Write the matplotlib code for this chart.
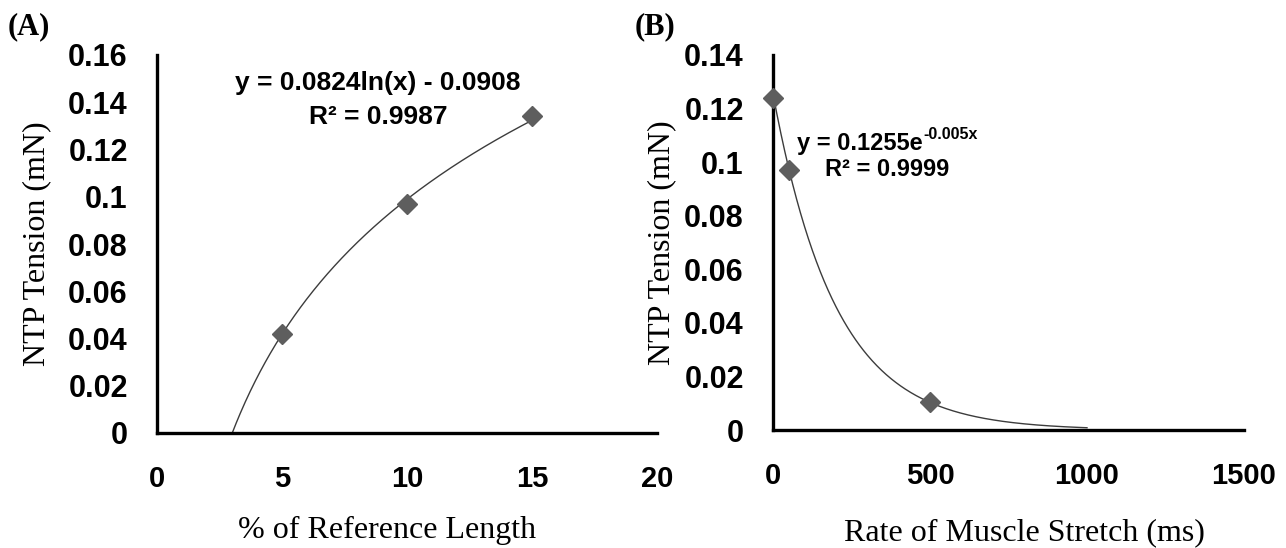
import numpy as np
import matplotlib
matplotlib.use("Agg")
import matplotlib.pyplot as plt
from matplotlib.transforms import offset_copy

# ---- data ----
a_x = [5, 10, 15]
a_y = [0.042, 0.097, 0.134]
a_coef = [0.0824, -0.0908]          # y = a*ln(x) + b
a_xticks = [0, 5, 10, 15, 20]
a_yticks = [0, 0.02, 0.04, 0.06, 0.08, 0.1, 0.12, 0.14, 0.16]
a_ytick_labels = ["0", "0.02", "0.04", "0.06", "0.08", "0.1", "0.12", "0.14", "0.16"]

b_x = [0, 50, 500]
b_y = [0.124, 0.097, 0.0105]
b_coef = [0.1255, -0.005]           # y = a*exp(b*x)
b_fit_max = 1000
b_xticks = [0, 500, 1000, 1500]
b_yticks = [0, 0.02, 0.04, 0.06, 0.08, 0.1, 0.12, 0.14]
b_ytick_labels = ["0", "0.02", "0.04", "0.06", "0.08", "0.1", "0.12", "0.14"]

W, H = 1286, 548
fig = plt.figure(figsize=(W / 100, H / 100), dpi=100)
fig.patch.set_facecolor("white")

SANS = "Liberation Sans"
SERIF = "Liberation Serif"
MCOL = "#5e5e5e"
LCOL = "#3c3c3c"


def px_axes(x0, x1, ytop, ybot):
    return fig.add_axes([x0 / W, (H - ybot) / H, (x1 - x0) / W, (ybot - ytop) / H])


def style(ax):
    for s in ["top", "right"]:
        ax.spines[s].set_visible(False)
    for s in ["left", "bottom"]:
        ax.spines[s].set_linewidth(2.4)
        ax.spines[s].set_color("black")
    ax.tick_params(axis="both", length=0)
    ax.tick_params(axis="y", pad=21)
    ax.tick_params(axis="x", pad=23)
    for lab in ax.get_yticklabels():
        lab.set_fontfamily(SANS)
        lab.set_fontweight("bold")
        lab.set_fontsize(22)
    for lab in ax.get_xticklabels():
        lab.set_fontfamily(SANS)
        lab.set_fontweight("bold")
        lab.set_fontsize(21)


# ---- panel A ----
ax1 = px_axes(157, 657, 55, 433)
ax1.set_xlim(0, 20)
ax1.set_ylim(0, 0.16)
ax1.set_xticks(a_xticks)
ax1.set_xticklabels([str(v) for v in a_xticks])
ax1.set_yticks(a_yticks)
ax1.set_yticklabels(a_ytick_labels)
x0 = np.exp(-a_coef[1] / a_coef[0])
xf = np.linspace(x0, max(a_x), 300)
ax1.plot(xf, a_coef[0] * np.log(xf) + a_coef[1], color=LCOL, lw=1.0, zorder=2)
ax1.plot(a_x, a_y, linestyle="none", marker="D", ms=10, color=MCOL, mec=MCOL, zorder=3)
style(ax1)
ax1.set_xlabel("% of Reference Length", fontfamily=SERIF, fontsize=23)
ax1.xaxis.set_label_coords((387 - 157) / 500, (433 - 530) / 378)
ax1.xaxis.label.set_va("center")
ax1.set_ylabel("NTP Tension (mN)", fontfamily=SERIF, fontsize=23)
ax1.yaxis.set_label_coords((37 - 157) / 500, 0.5)
ax1.yaxis.label.set_va("center")
ax1.text(8.84, 0.148, "y = 0.0824ln(x) - 0.0908", ha="center", va="center",
         fontfamily=SANS, fontweight="bold", fontsize=19)
ax1.text(8.84, 0.1337, "R² = 0.9987", ha="center", va="center",
         fontfamily=SANS, fontweight="bold", fontsize=19)

# ---- panel B ----
ax2 = px_axes(773, 1244, 55, 430)
ax2.set_xlim(0, 1500)
ax2.set_ylim(0, 0.14)
ax2.set_xticks(b_xticks)
ax2.set_xticklabels([str(v) for v in b_xticks])
ax2.set_yticks(b_yticks)
ax2.set_yticklabels(b_ytick_labels)
xb = np.linspace(0, b_fit_max, 400)
ax2.plot(xb, b_coef[0] * np.exp(b_coef[1] * xb), color=LCOL, lw=1.0, zorder=2, clip_on=False)
ax2.plot(b_x, b_y, linestyle="none", marker="D", ms=10, color=MCOL, mec=MCOL, zorder=3, clip_on=False)
style(ax2)
ax2.set_xlabel("Rate of Muscle Stretch (ms)", fontfamily=SERIF, fontsize=23)
ax2.xaxis.set_label_coords((1024 - 773) / 471, (430 - 533) / 375)
ax2.xaxis.label.set_va("center")
ax2.set_ylabel("NTP Tension (mN)", fontfamily=SERIF, fontsize=23)
ax2.yaxis.set_label_coords((662 - 773) / 471, 0.5)
ax2.yaxis.label.set_va("center")

# equation with superscript: main part then exponent placed at its right edge
eq_main = ax2.text(75, 0.1071, "y = 0.1255e", ha="left", va="center",
                   fontfamily=SANS, fontweight="bold", fontsize=17)
fig.canvas.draw()
bb = eq_main.get_window_extent()
inv = ax2.transData.inverted()
xr, _ = inv.transform((bb.x1, bb.y1))
ax2.text(xr, 0.1071, "-0.005x", ha="left", va="bottom",
         fontfamily=SANS, fontweight="bold", fontsize=11.5,
         transform=offset_copy(ax2.transData, fig=fig, x=1, y=1, units="points"))
ax2.text(363, 0.0971, "R² = 0.9999", ha="center", va="center",
         fontfamily=SANS, fontweight="bold", fontsize=17)

# panel labels
fig.text(8 / W, 1 - 27 / H, "(A)", fontfamily=SERIF, fontweight="bold", fontsize=22,
         ha="left", va="center")
fig.text(635 / W, 1 - 27 / H, "(B)", fontfamily=SERIF, fontweight="bold", fontsize=22,
         ha="left", va="center")

fig.savefig("out.png", dpi=100, facecolor="white")
